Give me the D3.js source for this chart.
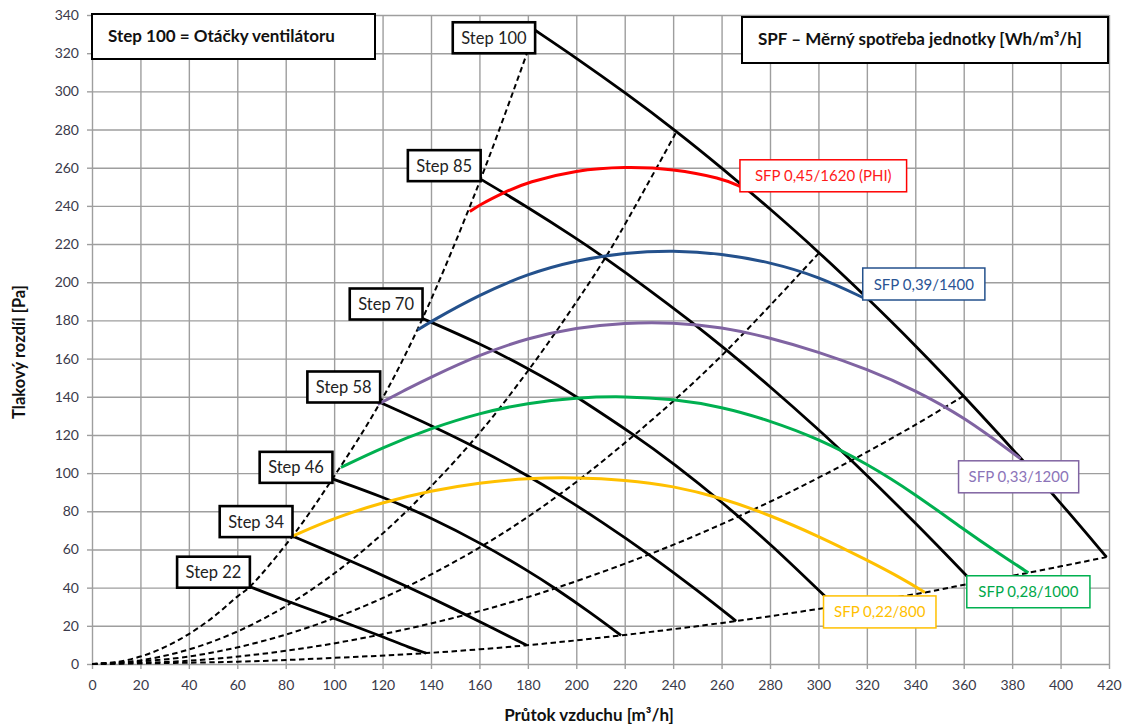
<!DOCTYPE html>
<html><head><meta charset="utf-8">
<script src="https://cdn.jsdelivr.net/npm/d3@7/dist/d3.min.js"></script>
<style>
body{margin:0;background:#fff;}
svg{display:block;font-family:Lato,"Open Sans",sans-serif;}
</style></head><body>
<svg id="c" width="1126" height="727"></svg>
<script>
// ---------- DATA ----------
const xTicks = [0,20,40,60,80,100,120,140,160,180,200,220,240,260,280,300,320,340,360,380,400,420];
const yTicks = [0,20,40,60,80,100,120,140,160,180,200,220,240,260,280,300,320,340];

// fan curves [flow m3/h, pressure Pa]
const step100 = [[183,332],[200,317.5],[220,299.5],[241,279.5],[260,260],[280,238.5],[300,216],[320,192],[340,167],[360,140.5],[383.5,108],[400,84.5],[419,56]];
const step85  = [[160.5,254],[180,239.3],[200,223],[210.8,213.7],[230,196.2],[246.6,180.2],[262,164.6],[280,145.4],[300,122.9],[312.7,107.9],[340,74.1],[364,42.5]];
const step70  = [[136.5,181],[160,168],[180,154.9],[193.3,145.3],[200,140.1],[224.6,119.5],[240,105.2],[260.4,84.6],[280,63.2],[307,30.2]];
const step58  = [[119,137],[140,125],[160,112.6],[180,98.6],[193.3,88.5],[210,75],[230,57.6],[250.8,37.8],[266,22.5]];
const step46  = [[99.3,97],[120,87.6],[140,76.7],[161,63],[180,48.9],[191.4,39.6],[205,27.7],[218.5,15]];
const step34  = [[82.8,67],[100,57.8],[115,49.4],[130.3,40.5],[150.3,28.4],[165,19.2],[179.5,9.8]];
const step22  = [[65.2,40.5],[80.4,33],[100,24],[120,14.3],[131.3,8.5],[138,5.7]];
const stepLabels = ["Step 100","Step 85","Step 70","Step 58","Step 46","Step 34","Step 22"];

// system (dashed) curves
const sysA = [[0,0],[10,1],[20,3.9],[30,8.8],[40,15.7],[50,24.5],[60,35.3],[65.2,40.5],[82.8,67],[99.3,97],[119,137],[136.5,181],[160.5,254],[183,332]];
const sysB = [[0,0],[20,1.9],[40,7.6],[60,17],[80,30.3],[100,47.4],[120,68.3],[140,93],[160,121],[180,153.5],[200,189.6],[214,217],[241,278]];
const sysC = [[0,0],[40,3.9],[80,15.4],[120,34.5],[160,61],[193.3,89],[230,126.5],[260,161.5],[300,215]];
const sysD = [[0,0],[40,1.7],[80,6.9],[120,15.6],[160,27.7],[193.3,40.5],[240,62.4],[280,85],[312.7,106],[340,125.3],[360,140.5]];
const sysE = [[0,0],[60,1.2],[100,3.2],[138,5.7],[179.5,9.8],[218.5,15],[266,22.5],[307,30.2],[344,37.5],[364,42.5],[386.7,47.8],[419,56]];

// SFP curves
const sfpRed    = [[156,237],[160,240.5],[170,247],[180,252.5],[200,258.8],[220,260.5],[240,259.5],[260,254.5],[268,250]];
const sfpBlue   = [[134.5,175],[140,179.5],[160,193.5],[180,204.5],[200,211.5],[220,215.5],[240,216.8],[260,215],[280,210.5],[300,203],[318.3,192]];
const sfpPurple = [[118,136],[130,144],[140,150.3],[160,162],[180,170.8],[200,176.3],[220,178.8],[240,179],[260,176.5],[280,171],[300,163.5],[320,154.5],[340,143.5],[360,129.5],[383.5,107.5]];
const sfpGreen  = [[102.8,103],[120,113.5],[140,123.5],[160,131.5],[180,136.8],[200,139.6],[220,140.3],[240,138.8],[260,134.8],[280,127.5],[300,118],[320,105],[340,89],[360,70.5],[375,57.5],[386.7,47.8]];
const sfpYellow = [[82.8,67],[100,76.5],[120,84.7],[140,90.8],[160,95],[180,97.4],[200,97.7],[220,96.5],[240,93.3],[260,87],[280,78],[300,67],[320,54.5],[335,44.5],[344,37.5]];
const sfpLabels = ["SFP 0,45/1620 (PHI)","SFP 0,39/1400","SFP 0,33/1200","SFP 0,28/1000","SFP 0,22/800"];

const titleLeft = "Step 100 = Otáčky ventilátoru";
const titleRight = "SPF – Měrný spotřeba jednotky [Wh/m³/h]";
const yTitle = "Tlakový rozdíl [Pa]";
const xTitle = "Průtok vzduchu [m³/h]";

// ---------- DRAW ----------
const svg = d3.select("#c");
const x = d3.scaleLinear().domain([0,420]).range([92,1109]);
const y = d3.scaleLinear().domain([0,340]).range([664,15]);
const gridCol = "#9e9e9e";

const gGrid = svg.append("g");
gGrid.append("g").attr("transform",`translate(0,${y(0)})`)
  .call(d3.axisBottom(x).tickValues(xTicks).tickSize(-(y(0)-y(340))).tickFormat(""))
  .call(g=>g.select(".domain").remove())
  .call(g=>g.selectAll("line").attr("stroke",gridCol).attr("stroke-width",1.4));
gGrid.append("g").attr("transform",`translate(${x(0)},0)`)
  .call(d3.axisLeft(y).tickValues(yTicks).tickSize(-(x(420)-x(0))).tickFormat(""))
  .call(g=>g.select(".domain").remove())
  .call(g=>g.selectAll("line").attr("stroke",gridCol).attr("stroke-width",1.4));

const fsTick = 14;
svg.append("g").attr("transform",`translate(0,${y(0)})`)
  .call(d3.axisBottom(x).tickValues(xTicks).tickSize(5).tickPadding(11))
  .call(g=>g.select(".domain").remove())
  .call(g=>g.selectAll("line").attr("stroke",gridCol).attr("stroke-width",1.4))
  .call(g=>g.selectAll("text").attr("font-size",fsTick).attr("fill","#3a3a4a").attr("font-family","Lato"));
svg.append("g").attr("transform",`translate(${x(0)},0)`)
  .call(d3.axisLeft(y).tickValues(yTicks).tickSize(5).tickPadding(8))
  .call(g=>g.select(".domain").remove())
  .call(g=>g.selectAll("line").attr("stroke",gridCol).attr("stroke-width",1.4))
  .call(g=>g.selectAll("text").attr("font-size",fsTick).attr("fill","#3a3a4a").attr("font-family","Lato"));

const lineSys = d3.line().x(d=>x(d[0])).y(d=>y(d[1])).curve(d3.curveCatmullRom.alpha(0.5));
const lineSmooth = d3.line().x(d=>x(d[0])).y(d=>y(d[1])).curve(d3.curveBasis);

[sysA,sysB,sysC,sysD,sysE].forEach(s=>{
  svg.append("path").attr("d",lineSys(s)).attr("fill","none")
    .attr("stroke","#000").attr("stroke-width",2).attr("stroke-dasharray","5.5,3.5");
});

const steps = [step100,step85,step70,step58,step46,step34,step22];
steps.forEach(s=>{
  svg.append("path").attr("d",lineSmooth(s)).attr("fill","none")
    .attr("stroke","#000").attr("stroke-width",2.8);
});

const sfpSeries = [sfpRed,sfpBlue,sfpPurple,sfpGreen,sfpYellow];
const sfpColors = ["#ff0000","#24518c","#8064a2","#00b050","#ffc000"];
const sfpText   = ["#ff1a1a","#2a5494","#8c74b8","#00a84a","#ffc000"];
sfpSeries.forEach((s,i)=>{
  svg.append("path").attr("d",lineSmooth(s)).attr("fill","none")
    .attr("stroke",sfpColors[i]).attr("stroke-width",3);
});

// step labels (box right edge at curve start)
const stepLayout = [{dy:-8},{dy:-29},{dy:-30},{dy:-31},{dy:-27},{dy:-30},{dy:-30}];
steps.forEach((s,i)=>{
  const px = x(s[0][0]), py = y(s[0][1]);
  const g = svg.append("g");
  const r = g.append("rect");
  const t = g.append("text").text(stepLabels[i]).attr("font-size",16.5).attr("fill","#222");
  const w = t.node().getComputedTextLength() + 17, h = 31;
  const bx = px - w, by = py + stepLayout[i].dy;
  r.attr("x",bx).attr("y",by).attr("width",w).attr("height",h)
    .attr("fill","#fff").attr("stroke","#000").attr("stroke-width",2.6);
  t.attr("x",bx+w/2).attr("y",by+h/2+6).attr("text-anchor","middle");
});

// SFP labels
const sfpLayout = [
  {align:"start",dx:-1,dy:-27,pad:30},
  {align:"start",dx:0,dy:-29.5,pad:22},
  {align:"middle",dx:-2,dy:2,pad:20},
  {align:"middle",dx:0,dy:3,pad:23},
  {align:"end",dx:11,dy:3.5,pad:21}
];
sfpSeries.forEach((s,i)=>{
  const e = s[s.length-1];
  const px = x(e[0]), py = y(e[1]);
  const L = sfpLayout[i];
  const g = svg.append("g");
  const r = g.append("rect");
  const t = g.append("text").text(sfpLabels[i]).attr("font-size",15).attr("fill",sfpText[i]);
  const w = t.node().getComputedTextLength() + L.pad, h = 32;
  const bx = L.align==="start" ? px+L.dx : L.align==="middle" ? px+L.dx-w/2 : px+L.dx-w;
  const by = py + L.dy;
  r.attr("x",bx).attr("y",by).attr("width",w).attr("height",h)
    .attr("fill","#fff").attr("stroke",sfpColors[i]).attr("stroke-width",1.5);
  t.attr("x",bx+w/2).attr("y",by+h/2+5.5).attr("text-anchor","middle");
});

// title boxes
function titleBox(x0,y0,w,h,txt,tx,ty){
  svg.append("rect").attr("x",x0).attr("y",y0).attr("width",w).attr("height",h)
    .attr("fill","#fff").attr("stroke","#000").attr("stroke-width",2);
  svg.append("text").attr("x",tx).attr("y",ty).text(txt)
    .attr("font-size",17).attr("font-weight","bold").attr("fill","#111");
}
titleBox(92,14,283,45,titleLeft,108,42);
titleBox(742,17,366,46,titleRight,758,45);

// axis titles
svg.append("text").attr("transform","translate(25,352) rotate(-90)").attr("text-anchor","middle")
  .attr("font-size",16.5).attr("font-weight","bold").attr("fill","#111").text(yTitle);
svg.append("text").attr("x",589).attr("y",721).attr("text-anchor","middle")
  .attr("font-size",17).attr("font-weight","bold").attr("fill","#111").text(xTitle);
</script>
</body></html>
